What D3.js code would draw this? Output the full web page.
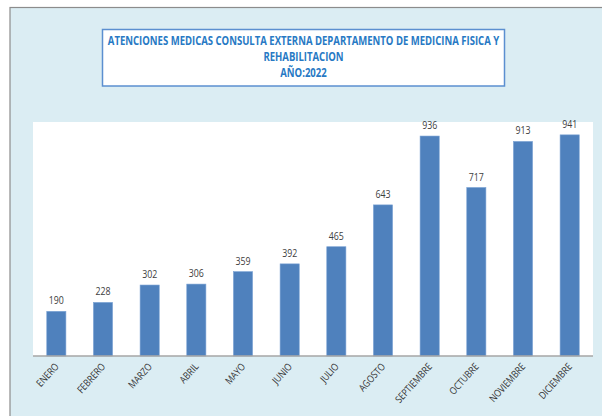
<!DOCTYPE html>
<html>
<head>
<meta charset="utf-8">
<script src="https://cdn.jsdelivr.net/npm/d3@7"></script>
<style>
html,body{margin:0;padding:0;background:#fff;}
svg{display:block;}
</style>
</head>
<body>
<svg id="c" width="602" height="416"></svg>
<script>
const titleLines = ["ATENCIONES MEDICAS CONSULTA EXTERNA DEPARTAMENTO DE MEDICINA FISICA Y", "REHABILITACION", "AÑO:2022"];
const months = ["ENERO","FEBRERO","MARZO","ABRIL","MAYO","JUNIO","JULIO","AGOSTO","SEPTIEMBRE","OCTUBRE","NOVIEMBRE","DICIEMBRE"];
const values = [190,228,302,306,359,392,465,643,936,717,913,941];

const font = "'Open Sans',sans-serif";
const svg = d3.select("#c");

// outer frame
svg.append("rect").attr("x",10).attr("y",7.5).attr("width",600).attr("height",420)
  .attr("fill","#dbedf3").attr("stroke","#8c8c8c").attr("stroke-width",1.2);

// title box
svg.append("rect").attr("x",102.5).attr("y",29.5).attr("width",402).attr("height",56.5)
  .attr("fill","#ffffff").attr("stroke","#5b8fd0").attr("stroke-width",1.5);
const tY = [45, 61, 77];
svg.append("g").selectAll("text").data(titleLines).join("text")
  .attr("transform",(d,i)=>`translate(303.5,${tY[i]}) scale(0.83,1)`)
  .attr("text-anchor","middle")
  .attr("font-family",font).attr("font-weight","bold").attr("font-size",11.5)
  .attr("fill","#2779c4").text(d=>d);

// plot area
const x0 = 33, x1 = 593, yTop = 122, yBase = 356;
svg.append("rect").attr("x",x0).attr("y",yTop).attr("width",x1-x0).attr("height",yBase-yTop).attr("fill","#fff");

const x = d3.scaleBand().domain(months).range([x0,x1]).paddingInner(0.59).paddingOuter(0.295);
const y = d3.scaleLinear().domain([0,1000]).range([yBase,121]);

svg.append("g").selectAll("rect").data(values).join("rect")
  .attr("x",(d,i)=>x(months[i])).attr("width",x.bandwidth())
  .attr("y",d=>y(d)).attr("height",d=>yBase-y(d))
  .attr("fill","#4f81bd").attr("stroke","#7aa2d4").attr("stroke-width",0.6);

svg.append("g").selectAll("text").data(values).join("text")
  .attr("transform",(d,i)=>`translate(${x(months[i])+x.bandwidth()/2},${y(d)-7}) scale(0.8,1)`)
  .attr("text-anchor","middle").attr("font-family",font).attr("font-size",11)
  .attr("fill","#404040").text(d=>d);

// axis
const ax = svg.append("g").attr("transform",`translate(0,${yBase})`)
  .call(d3.axisBottom(x).tickSize(0).tickPadding(0));
ax.select(".domain").attr("stroke","#a6a6a6").attr("stroke-width",1.5).attr("d",`M${x0},0H${x1}`);
ax.selectAll(".tick text")
  .attr("font-family",font).attr("font-size",10).attr("fill","#333")
  .attr("text-anchor","end").attr("dy",null).attr("y",0)
  .attr("transform","translate(3,11) rotate(-48) scale(0.85,1)");
</script>
</body>
</html>
